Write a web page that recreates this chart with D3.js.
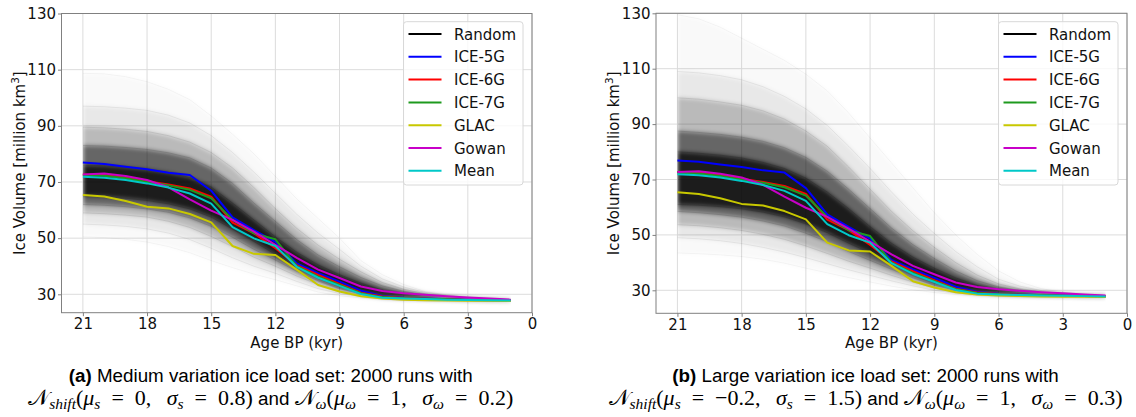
<!DOCTYPE html>
<html>
<head>
<meta charset="utf-8">
<script src="https://cdn.jsdelivr.net/npm/d3@7/dist/d3.min.js"></script>
<style>
  body { margin: 0; background: #fff; }
  svg { display: block; }
</style>
</head>
<body>
<script>
// ages (kyr BP) at which every curve is sampled
const ages = [21, 20, 19, 18, 17, 16, 15, 14, 13, 12, 11, 10, 9, 8, 7, 6, 5, 4, 3, 2, 1];

// reference ice models (million km3)
const ice5g = [76.9, 76.4, 75.4, 74.5, 73.3, 72.5, 66.9, 57.4, 52.9, 48.7, 41.0, 37.5, 34.5, 31.3, 29.4, 28.8, 28.5, 28.3, 28.1, 28.0, 27.9];
const ice6g = [72.7, 72.5, 71.5, 70.3, 69.1, 67.7, 64.8, 55.5, 51.7, 46.4, 40.4, 36.9, 33.7, 30.6, 29.2, 28.7, 28.4, 28.2, 28.0, 27.9, 27.8];
const ice7g = [72.5, 72.2, 71.3, 70.0, 68.8, 67.2, 64.2, 56.5, 51.7, 49.6, 40.0, 36.3, 33.3, 30.4, 29.0, 28.6, 28.4, 28.2, 28.0, 27.9, 27.8];
const glac  = [65.4, 64.8, 63.2, 61.2, 60.6, 58.6, 55.6, 47.2, 44.4, 44.0, 38.8, 33.3, 31.0, 29.3, 28.5, 28.1, 27.9, 27.8, 27.7, 27.7, 27.6];
const gowan = [72.7, 73.0, 72.1, 70.7, 68.1, 63.8, 59.8, 56.5, 52.3, 47.6, 43.0, 38.8, 35.8, 32.8, 31.2, 30.4, 29.8, 29.3, 28.9, 28.5, 28.1];
const meanModel = [71.9, 71.5, 70.7, 69.5, 68.0, 65.9, 62.3, 53.9, 49.9, 47.2, 39.8, 35.9, 33.0, 30.1, 28.8, 28.5, 28.3, 28.1, 28.0, 27.9, 27.8];

// spread of the 2000 random runs, medium variation set (outer -> inner envelopes)
const medOutHi   = [108.7, 108.5, 107.5, 105.7, 103.0, 99.3, 93.5, 87.0, 80.0, 72.0, 64.0, 57.0, 50.0, 42.0, 37.0, 33.5, 31.0, 29.8, 29.0, 28.5, 28.2];
const medLightHi = [97.0, 96.8, 96.3, 95.5, 93.8, 91.0, 86.5, 80.5, 73.5, 66.0, 58.5, 51.8, 46.0, 40.0, 35.5, 32.6, 30.7, 29.6, 28.9, 28.4, 28.1];
const medMidHi   = [89.5, 89.3, 88.8, 88.0, 86.5, 84.2, 80.5, 75.0, 68.0, 60.5, 53.5, 47.5, 42.5, 38.0, 34.2, 31.8, 30.2, 29.3, 28.8, 28.4, 28.1];
const medDarkHi  = [83.0, 82.8, 82.3, 81.6, 80.4, 78.6, 75.0, 69.5, 62.5, 56.0, 49.5, 44.0, 39.8, 36.0, 33.0, 31.1, 29.8, 29.1, 28.6, 28.3, 28.0];
const medCoreHi  = [76.0, 75.8, 75.2, 74.4, 73.3, 71.6, 68.2, 62.5, 56.5, 50.5, 45.0, 40.5, 37.0, 34.0, 31.5, 30.2, 29.4, 28.9, 28.5, 28.2, 28.0];
const medCoreLo  = [65.0, 64.8, 64.2, 63.4, 62.2, 60.4, 57.5, 53.2, 48.8, 44.2, 39.8, 36.0, 33.0, 30.8, 29.3, 28.8, 28.5, 28.3, 28.1, 27.9, 27.8];
const medDarkLo  = [62.0, 61.7, 61.2, 60.4, 59.2, 57.2, 54.2, 50.3, 46.0, 42.2, 38.2, 34.8, 32.0, 30.2, 29.0, 28.6, 28.3, 28.2, 28.0, 27.9, 27.8];
const medMidLo   = [59.0, 58.7, 58.2, 57.5, 56.0, 53.8, 50.6, 47.0, 43.2, 40.0, 36.5, 33.5, 31.2, 29.7, 28.8, 28.4, 28.2, 28.1, 27.9, 27.8, 27.7];
const medLightLo = [55.0, 54.7, 54.2, 53.3, 51.8, 49.5, 46.4, 43.0, 40.0, 37.5, 34.6, 32.0, 30.3, 29.2, 28.5, 28.2, 28.1, 28.0, 27.9, 27.8, 27.7];
const medOutLo   = [50.5, 50.2, 49.6, 48.6, 47.0, 44.8, 42.0, 39.5, 37.2, 35.2, 33.0, 30.8, 29.5, 28.7, 28.2, 28.0, 27.9, 27.8, 27.7, 27.7, 27.6];

// spread of the 2000 random runs, large variation set
const largeOutHi   = [129.5, 128.0, 125.0, 121.0, 117.0, 113.0, 108.0, 102.0, 94.0, 85.0, 76.0, 67.0, 58.0, 50.0, 43.0, 37.0, 33.0, 30.6, 29.3, 28.6, 28.2];
const largeLightHi = [109.0, 108.5, 107.5, 106.0, 103.5, 100.0, 95.5, 89.5, 82.0, 74.0, 65.5, 57.5, 50.5, 44.0, 38.5, 34.0, 31.5, 29.9, 29.0, 28.5, 28.1];
const largeMidHi   = [99.5, 99.0, 98.0, 96.8, 94.8, 91.8, 87.5, 82.0, 74.5, 66.5, 58.5, 51.5, 45.5, 40.0, 35.5, 32.3, 30.5, 29.4, 28.8, 28.4, 28.1];
const largeDarkHi  = [87.5, 87.0, 86.3, 85.3, 83.8, 81.5, 78.0, 73.0, 66.5, 59.5, 52.5, 46.5, 41.5, 37.0, 33.5, 31.2, 29.9, 29.1, 28.6, 28.3, 28.0];
const largeCoreHi  = [80.0, 79.5, 78.8, 77.8, 76.2, 74.0, 70.5, 65.5, 59.5, 53.0, 47.0, 42.0, 38.0, 34.5, 31.8, 30.3, 29.4, 28.9, 28.5, 28.2, 28.0];
const largeCoreLo  = [61.0, 60.7, 60.2, 59.4, 58.2, 56.5, 54.0, 50.8, 47.0, 43.5, 39.8, 36.0, 32.8, 30.6, 29.3, 28.7, 28.4, 28.2, 28.0, 27.9, 27.8];
const largeDarkLo  = [58.5, 58.0, 57.3, 56.4, 55.0, 53.2, 50.6, 47.5, 44.0, 40.8, 37.6, 34.5, 31.8, 30.0, 29.0, 28.5, 28.2, 28.1, 28.0, 27.8, 27.7];
const largeMidLo   = [53.7, 53.3, 52.6, 51.6, 50.2, 48.4, 46.0, 43.3, 40.5, 38.0, 35.4, 33.0, 30.9, 29.5, 28.7, 28.3, 28.1, 28.0, 27.9, 27.8, 27.7];
const largeLightLo = [49.0, 48.6, 47.9, 46.9, 45.5, 43.8, 41.8, 39.6, 37.4, 35.4, 33.4, 31.6, 30.0, 29.0, 28.4, 28.1, 28.0, 27.9, 27.8, 27.7, 27.7];
const largeOutLo   = [43.5, 43.2, 42.8, 42.2, 41.2, 39.8, 38.0, 36.3, 34.6, 33.0, 31.5, 30.2, 29.2, 28.5, 28.1, 27.9, 27.8, 27.7, 27.7, 27.6, 27.6];

const xTicks = [21, 18, 15, 12, 9, 6, 3, 0];
const yTicks = [30, 50, 70, 90, 110, 130];
const legendNames = ["Random", "ICE-5G", "ICE-6G", "ICE-7G", "GLAC", "Gowan", "Mean"];
const legendColors = ["#000000", "#0000ff", "#ff0000", "#1e9a1e", "#c8c800", "#c800c8", "#00c8c8"];
const models = [ice5g, ice6g, ice7g, glac, gowan, meanModel];

const bandAlpha = [0.025, 0.07, 0.2, 0.45, 0.72];

const width = 1136, height = 417;
const svg = d3.select("body").append("svg")
    .attr("width", width)
    .attr("height", height)
    .attr("font-family", "DejaVu Sans, sans-serif");

const defs = svg.append("defs");
defs.append("filter").attr("id", "soft")
    .attr("x", "-5%").attr("y", "-5%").attr("width", "110%").attr("height", "110%")
  .append("feGaussianBlur").attr("stdDeviation", 2);

const panels = [
  { key: "a", left: 61.5, right: 532, top: 13.5, bottom: 312.7, yMin: 23.45,
    bands: [[medOutLo, medOutHi], [medLightLo, medLightHi], [medMidLo, medMidHi], [medDarkLo, medDarkHi], [medCoreLo, medCoreHi]],
    title: "Medium variation ice load set: 2000 runs with", mu: "0", sig: "0.8", sigW: "0.2" },
  { key: "b", left: 656, right: 1127, top: 13.3, bottom: 313.3, yMin: 21.7,
    bands: [[largeOutLo, largeOutHi], [largeLightLo, largeLightHi], [largeMidLo, largeMidHi], [largeDarkLo, largeDarkHi], [largeCoreLo, largeCoreHi]],
    title: "Large variation ice load set: 2000 runs with", mu: "\u22120.2", sig: "1.5", sigW: "0.3" }
];

panels.forEach(drawPanel);

function drawPanel(p) {
  const x = d3.scaleLinear().domain([22, 0]).range([p.left, p.right]);
  const y = d3.scaleLinear().domain([p.yMin, 130]).range([p.bottom, p.top]);
  const g = svg.append("g");

  // grid
  g.append("g").selectAll("line").data(xTicks).join("line")
      .attr("x1", d => x(d)).attr("x2", d => x(d))
      .attr("y1", p.top).attr("y2", p.bottom)
      .attr("stroke", "#dcdcdc").attr("stroke-width", 1);
  g.append("g").selectAll("line").data(yTicks).join("line")
      .attr("x1", p.left).attr("x2", p.right)
      .attr("y1", d => y(d)).attr("y2", d => y(d))
      .attr("stroke", "#dcdcdc").attr("stroke-width", 1);

  // random runs as density bands
  const clipId = "clip" + p.key;
  defs.append("clipPath").attr("id", clipId)
    .append("rect")
      .attr("x", x(21)).attr("y", p.top)
      .attr("width", x(1) - x(21)).attr("height", p.bottom - p.top);

  const runs = g.append("g").attr("clip-path", `url(#${clipId})`);
  const soft = runs.append("g").attr("filter", "url(#soft)");
  p.bands.forEach((b, k) => {
    soft.append("path")
        .attr("d", d3.area()
            .x((d, i) => x(ages[i]))
            .y0((d, i) => y(b[0][i]))
            .y1((d, i) => y(b[1][i]))(ages))
        .attr("fill", "#000")
        .attr("fill-opacity", bandAlpha[k]);
  });
  const edge = d3.line().x((d, i) => x(ages[i])).y(d => y(d));
  p.bands.forEach((b, k) => {
    b.forEach(arr => {
      runs.append("path")
          .attr("d", edge(arr))
          .attr("fill", "none")
          .attr("stroke", "#000")
          .attr("stroke-opacity", 0.07 + k * 0.04)
          .attr("stroke-width", 0.6);
    });
  });

  // model curves
  const line = d3.line().x((d, i) => x(ages[i])).y(d => y(d));
  models.forEach((m, k) => {
    g.append("path")
        .attr("d", line(m))
        .attr("fill", "none")
        .attr("stroke", legendColors[k + 1])
        .attr("stroke-width", 2)
        .attr("stroke-linejoin", "round");
  });

  // spines
  g.append("rect")
      .attr("x", p.left).attr("y", p.top)
      .attr("width", p.right - p.left).attr("height", p.bottom - p.top)
      .attr("fill", "none").attr("stroke", "#808080").attr("stroke-width", 1);

  // axes
  const xAxis = g.append("g")
      .attr("transform", `translate(0,${p.bottom})`)
      .call(d3.axisBottom(x).tickValues(xTicks).tickFormat(d3.format("d")).tickSize(3.5).tickPadding(2.5));
  const yAxis = g.append("g")
      .attr("transform", `translate(${p.left},0)`)
      .call(d3.axisLeft(y).tickValues(yTicks).tickFormat(d3.format("d")).tickSize(3.5).tickPadding(2));
  [xAxis, yAxis].forEach(a => {
    a.select(".domain").remove();
    a.selectAll(".tick line").attr("stroke", "#808080");
    a.selectAll(".tick text")
        .attr("fill", "#111")
        .attr("font-size", 15)
        .attr("font-family", "DejaVu Sans, sans-serif");
  });

  const cx = (p.left + p.right) / 2;
  g.append("text")
      .attr("x", cx).attr("y", 348)
      .attr("text-anchor", "middle")
      .attr("font-size", 15).attr("fill", "#111")
      .text("Age BP (kyr)");

  const yl = g.append("text")
      .attr("transform", `translate(${p.left - 42},${(p.top + p.bottom) / 2}) rotate(-90)`)
      .attr("text-anchor", "middle")
      .attr("dominant-baseline", "central")
      .attr("font-size", 15).attr("fill", "#111");
  yl.append("tspan").text("Ice Volume [million km");
  yl.append("tspan").attr("font-size", 10.5).attr("dy", -5).text("3");
  yl.append("tspan").attr("dy", 5).text("]");

  // legend
  const lg = g.append("g").attr("transform", `translate(${p.right - 128.5},21.7)`);
  lg.append("rect")
      .attr("width", 119.5).attr("height", 163.3)
      .attr("rx", 3)
      .attr("fill", "#fff").attr("fill-opacity", 0.8)
      .attr("stroke", "#d8d8d8").attr("stroke-width", 1);
  const rows = lg.selectAll("g.row").data(legendNames).join("g")
      .attr("transform", (d, i) => `translate(0,${12.3 + i * 22.8})`);
  rows.append("line")
      .attr("x1", 5).attr("x2", 38)
      .attr("stroke", (d, i) => legendColors[i])
      .attr("stroke-width", 2);
  rows.append("text")
      .attr("x", 50.5).attr("y", 5.5)
      .attr("font-size", 15).attr("fill", "#111")
      .text(d => d);

  // caption
  const capX = cx - 26;
  const c1 = g.append("text")
      .attr("x", capX).attr("y", 382)
      .attr("text-anchor", "middle")
      .attr("font-family", "Liberation Sans, Arial, sans-serif")
      .attr("font-size", 18.8).attr("fill", "#000");
  c1.append("tspan").attr("font-weight", "bold").text(`(${p.key})`);
  c1.append("tspan").text(" " + p.title);

  const c2 = g.append("text")
      .attr("x", capX).attr("y", 405)
      .attr("text-anchor", "middle")
      .attr("font-family", "Liberation Serif, serif")
      .attr("font-size", 22).attr("fill", "#000");
  const eq = "\u2002=\u2002";
  const parts = [
    ["\u{1D4A9}", ""], ["shift", "subit"], ["(", ""], ["\u03BC", "it"], ["s", "subit"],
    [eq + p.mu + ",\u2002\u2009", ""], ["\u03C3", "it"], ["s", "subit"], [eq + p.sig + ")", ""],
    [" and ", "sans"],
    ["\u{1D4A9}", ""], ["\u03C9", "subit"], ["(", ""], ["\u03BC", "it"], ["\u03C9", "subit"],
    [eq + "1,\u2002\u2009", ""], ["\u03C3", "it"], ["\u03C9", "subit"], [eq + p.sigW + ")", ""]
  ];
  let shifted = false;
  parts.forEach(([t, kind]) => {
    const ts = c2.append("tspan").text(t);
    const isSub = kind === "subit";
    if (isSub && !shifted) { ts.attr("dy", 4); shifted = true; }
    if (!isSub && shifted) { ts.attr("dy", -4); shifted = false; }
    if (isSub) ts.attr("font-size", 15.5).attr("font-style", "italic");
    if (kind === "it") ts.attr("font-style", "italic");
    if (kind === "sans") ts.attr("font-family", "Liberation Sans, Arial, sans-serif").attr("font-size", 18.8);
  });
}
</script>
</body>
</html>
